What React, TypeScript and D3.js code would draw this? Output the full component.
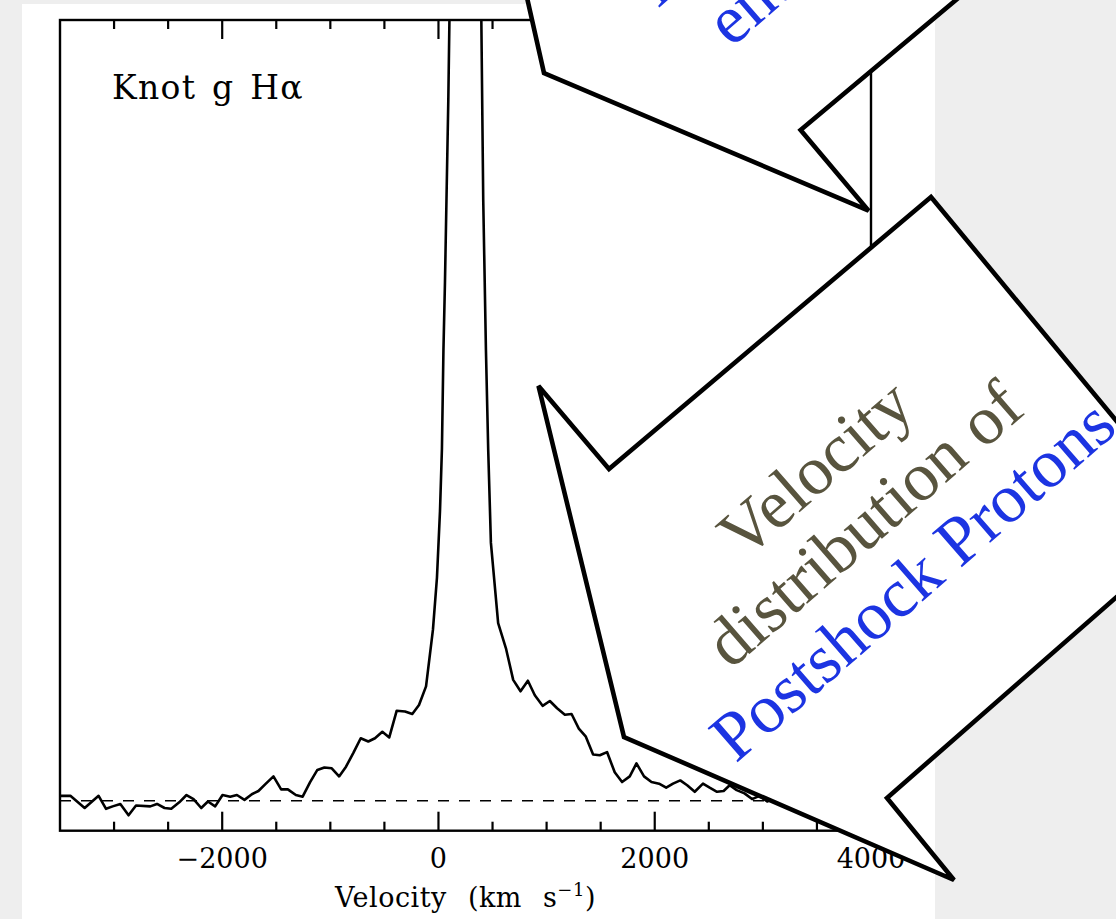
import React from "react";
import * as d3 from "d3";

// ---- data ----
const velocity = [
  -3496, -3404, -3272, -3143, -3074, -3013, -2942, -2866, -2797, -2665,
  -2603, -2533, -2471, -2397, -2330, -2265, -2194, -2132, -2065, -1997,
  -1926, -1864, -1794, -1726, -1665, -1596, -1526, -1455, -1393, -1319,
  -1256, -1187, -1120, -1055, -987, -919, -855, -787, -719, -649,
  -587, -519, -455, -386, -309, -242, -180, -115, -51, -14,
  14, 32, 46, 60, 91, 102, 162, 245, 328, 396,
  414, 439, 460, 485, 552, 624, 691, 759, 827, 891,
  963, 1030, 1097, 1169, 1231, 1298, 1363, 1430, 1492, 1559,
  1630, 1698, 1769, 1831, 1901, 1970, 2040, 2106, 2169, 2236,
  2300, 2370, 2446, 2508, 2576, 2637, 2693, 2758, 2830, 2900,
  2970, 3040, 3110, 3180, 3250, 3320, 3390, 3460, 3530, 3600,
  3670, 3740, 3810, 3880, 3950, 4000,
];
const flux = [
  4.3, 4.3, 2.8, 4.3, 2.7, 3.0, 3.3, 1.9, 3.1, 3.0,
  3.3, 2.8, 2.7, 3.5, 4.4, 3.9, 2.8, 3.6, 3.0, 4.4,
  4.2, 4.4, 3.8, 4.5, 4.9, 5.8, 6.7, 5.1, 5.1, 4.4,
  4.2, 6.0, 7.5, 7.8, 7.7, 6.7, 7.9, 9.6, 11.4, 11.0,
  11.4, 12.2, 11.5, 14.8, 14.7, 14.4, 15.5, 17.8, 24.8, 31.2,
  39.4, 47.1, 59.3, 67.6, 90.1, 100.6, 158, 260, 182, 100.6,
  77.8, 59.3, 47.0, 35.5, 25.6, 22.5, 18.6, 17.2, 18.5, 16.7,
  15.4, 16.0, 15.1, 14.3, 14.4, 12.6, 11.6, 9.4, 9.3, 9.7,
  7.2, 6.0, 6.7, 8.3, 6.7, 6.0, 5.8, 5.3, 5.8, 6.2,
  5.6, 4.8, 5.8, 5.3, 4.8, 4.9, 5.6, 5.0, 4.6, 3.9,
  4.3, 3.6, 4.1, 3.5, 4.0, 3.8, 4.2, 3.4, 3.9, 3.6,
  4.0, 3.5, 3.8, 3.7, 3.9, 3.6,
];
const continuumLevel = 3.7;
const xDomain = [-3500, 4000];
const yDomain = [0, 100];
const majorTicks = [-2000, 0, 2000, 4000];
const majorTickLabels = ["\u22122000", "0", "2000", "4000"];
const minorTicks = [-3000, -2500, -1500, -1000, -500, 500, 1000, 1500, 2500, 3000, 3500];
const panelLabel = "Knot g H\u03b1";
const xTitle = "Velocity (km s";
const xTitleSup = "\u22121";

// callout texts
const calloutLines = ["Velocity", "distribution of", "Postshock Protons"];
const topCalloutLines = ["Fast Neutrals", "entering shock"];

// ---- layout ----
const W = 1116;
const H = 919;
const plot = { left: 60, right: 871, top: 20, bottom: 830.7 };

// annotation arrow shapes (page pixels)
const arrowTop: [number, number][] = [
  [514, -60], [544, 73], [868.6, 210.7], [800.6, 130], [1030, -62],
];
const arrowBottom: [number, number][] = [
  [931, 197], [1201, 523], [887, 798], [954, 880], [624, 737], [538.5, 386], [609, 469],
];

export default function App() {
  const x = d3.scaleLinear().domain(xDomain).range([plot.left, plot.right]);
  const y = d3.scaleLinear().domain(yDomain).range([plot.bottom, plot.top]);
  const pts = velocity.map((v, i) => [v, flux[i]] as [number, number]);
  const line = d3
    .line<[number, number]>()
    .x((d) => x(d[0]))
    .y((d) => y(d[1]));
  const poly = (p: [number, number][]) => "M" + p.map((q) => q.join(",")).join("L") + "Z";

  const axisFont = "'DejaVu Serif', serif";
  const blue = "#1c34e2";
  const olive = "#58543e";
  const rot = -41;

  return (
    <svg
      width={W}
      height={H}
      style={{ position: "absolute", left: 0, top: 0 }}
      xmlns="http://www.w3.org/2000/svg"
    >
      <defs>
        <clipPath id="plotClip">
          <rect x={plot.left} y={plot.top} width={plot.right - plot.left} height={plot.bottom - plot.top} />
        </clipPath>
      </defs>
      <rect x={0} y={0} width={W} height={H} fill="#eeeeee" />
      <rect x={22} y={4} width={913} height={H - 4} fill="#ffffff" />

      {/* frame */}
      <rect
        x={plot.left}
        y={plot.top}
        width={plot.right - plot.left}
        height={plot.bottom - plot.top}
        fill="none"
        stroke="#000"
        strokeWidth={2.4}
      />
      {/* ticks */}
      {majorTicks.map((t) => (
        <g key={"M" + t}>
          <line x1={x(t)} x2={x(t)} y1={plot.bottom} y2={plot.bottom - 19} stroke="#000" strokeWidth={2.2} />
          <line x1={x(t)} x2={x(t)} y1={plot.top} y2={plot.top + 19} stroke="#000" strokeWidth={2.2} />
        </g>
      ))}
      {minorTicks.map((t) => (
        <g key={"m" + t}>
          <line x1={x(t)} x2={x(t)} y1={plot.bottom} y2={plot.bottom - 9} stroke="#000" strokeWidth={2.2} />
          <line x1={x(t)} x2={x(t)} y1={plot.top} y2={plot.top + 9} stroke="#000" strokeWidth={2.2} />
        </g>
      ))}
      {majorTicks.map((t, i) => (
        <text key={"l" + t} x={x(t)} y={868} textAnchor="middle" fontFamily={axisFont} fontSize={27} fill="#000">
          {majorTickLabels[i]}
        </text>
      ))}
      <text x={(plot.left + plot.right) / 2} y={907} textAnchor="middle" fontFamily={axisFont} fontSize={27} fill="#000" wordSpacing={12} letterSpacing={0.5}>
        {xTitle}
        <tspan fontSize={18} dy={-11}>{xTitleSup}</tspan>
        <tspan dy={11}>)</tspan>
      </text>
      <text x={112} y={99} fontFamily={axisFont} fontSize={33} letterSpacing={1.3} wordSpacing={4} fill="#000">
        {panelLabel}
      </text>

      {/* continuum */}
      <line
        x1={plot.left}
        x2={plot.right}
        y1={y(continuumLevel)}
        y2={y(continuumLevel)}
        stroke="#000"
        strokeWidth={1.5}
        strokeDasharray="11,10"
      />
      {/* spectrum */}
      <path d={line(pts) || ""} fill="none" stroke="#000" strokeWidth={2.6} strokeLinejoin="round" clipPath="url(#plotClip)" />

      {/* callouts */}
      <path d={poly(arrowTop)} fill="#fff" stroke="#000" strokeWidth={4.6} strokeLinejoin="miter" />
      <g transform={`translate(816,600) rotate(${rot})`} fontFamily="'Liberation Serif', serif" fontSize={69}>
        <text x={268} y={-550} fill={blue}>{topCalloutLines[0]}</text>
        <text x={298} y={-472} fill={blue}>{topCalloutLines[1]}</text>
      </g>
      <path d={poly(arrowBottom)} fill="#fff" stroke="#000" strokeWidth={4.6} strokeLinejoin="miter" />
      <g transform={`translate(816,600) rotate(${rot})`} fontFamily="'Liberation Serif', serif" fontSize={69} textAnchor="middle">
        <text x={86} y={-77} fill={olive}>{calloutLines[0]}</text>
        <text x={86} y={-3} fill={olive}>{calloutLines[1]}</text>
        <text x={86} y={71} fill={blue}>{calloutLines[2]}</text>
      </g>
    </svg>
  );
}
